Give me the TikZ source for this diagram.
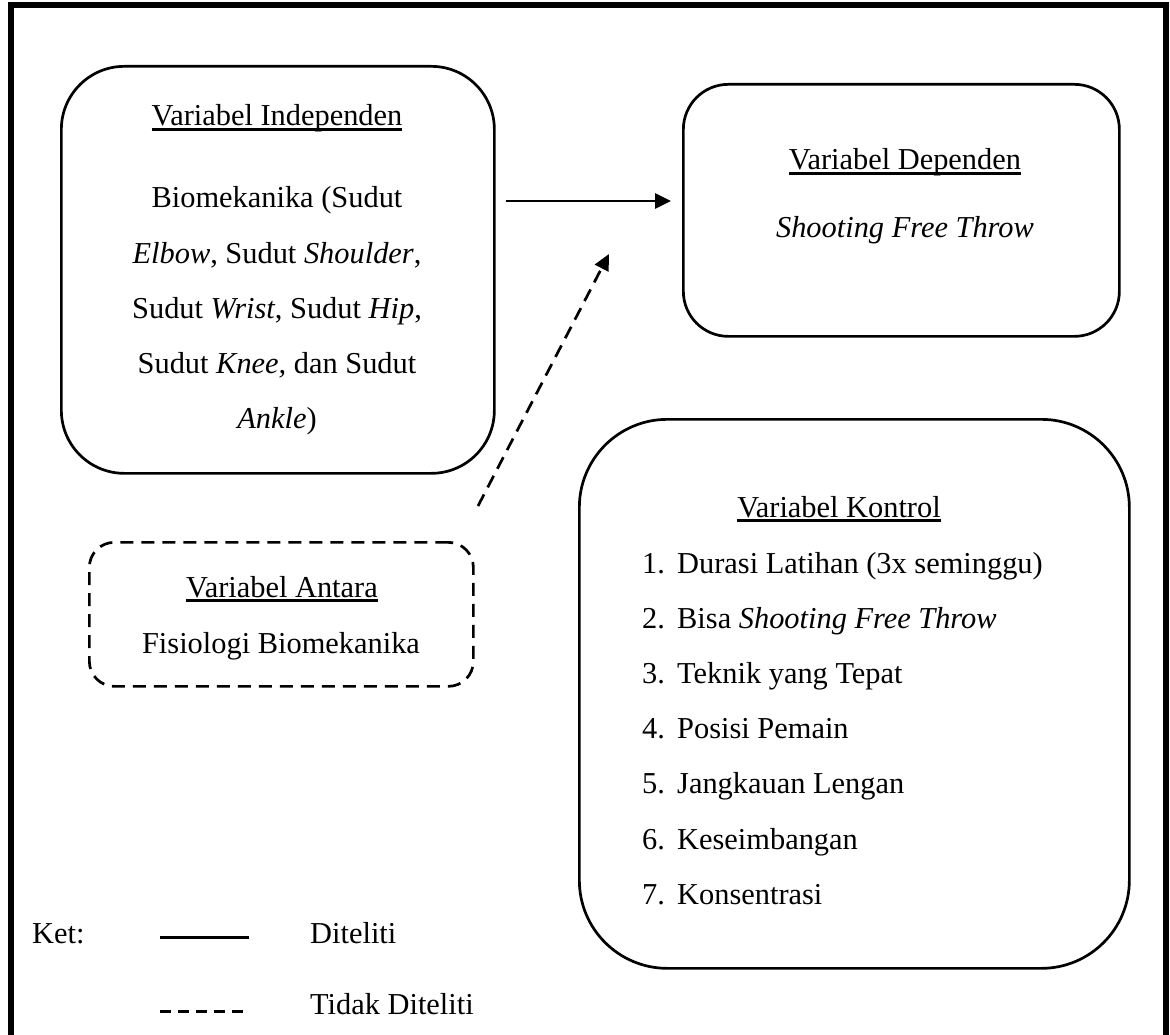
\documentclass[tikz,border=0pt]{standalone}
\usepackage{fontspec}
\setmainfont{Liberation Serif}
\usetikzlibrary{arrows.meta}
\newcommand\myul[1]{\setbox0\hbox{#1}\rlap{\rule[-4.7pt]{\wd0}{2.3pt}}\box0}
\begin{document}
\begin{tikzpicture}[x=1pt,y=-1pt,
  box/.style={draw, line width=2.7pt, rounded corners=#1, anchor=north west, inner sep=0pt},
  dashbox/.style={box=#1, dash pattern=on 13pt off 8pt},
  txt/.style={anchor=base, inner sep=0pt, font=\fontsize{30.4}{36}\selectfont},
  ltxt/.style={txt, anchor=base west},
  conn/.style={line width=2.7pt, -{Triangle[length=16pt,width=15pt]}},
  dconn/.style={conn, dash pattern=on 13pt off 8pt}]
\useasboundingbox (0,0) rectangle (1170,1035);
% outer frame
\draw[line width=5.5pt] (11,1060) -- (11,5) -- (1166,5) -- (1166,1060);
% boxes
\node[box=63pt, minimum width=433pt, minimum height=407pt] (indep) at (60,65) {};
\node[box=45pt, minimum width=436pt, minimum height=252pt] (dep) at (682,83) {};
\node[box=88pt, minimum width=550pt, minimum height=549pt] (kontrol) at (578,418) {};
\node[dashbox=25pt, minimum width=384pt, minimum height=144pt] (antara) at (88,541) {};
% texts: independen
\node[txt] (ti) at (277,126) {\myul{Variabel Independen}};
\node[txt] (ti1) at (277,208) {Biomekanika (Sudut};
\node[txt] (ti2) at (277,263) {\textit{Elbow}, Sudut \textit{Shoulder},};
\node[txt] (ti3) at (277,318) {Sudut \textit{Wrist}, Sudut \textit{Hip},};
\node[txt] (ti4) at (277,373) {Sudut \textit{Knee,} dan Sudut};
\node[txt] (ti5) at (277,428) {\textit{Ankle})};
% dependen
\node[txt] (td) at (905,170) {\myul{Variabel Dependen}};
\node[txt] (td1) at (905,238) {\textit{Shooting Free Throw}};
% antara
\node[txt] (ta) at (282,597) {\myul{Variabel Antara}};
\node[txt] (ta1) at (281,653) {Fisiologi Biomekanika};
% kontrol
\node[txt] (tk) at (839,517) {\myul{Variabel Kontrol}};
\foreach \n/\t/\y in {1/{Durasi Latihan (3x seminggu)}/573,
                      2/{Bisa \textit{Shooting Free Throw}}/628,
                      3/{Teknik yang Tepat}/683,
                      4/{Posisi Pemain}/738,
                      5/{Jangkauan Lengan}/793,
                      6/{Keseimbangan}/849,
                      7/{Konsentrasi}/904}{
  \node[ltxt] (kn\n) at (642,\y) {\n.};
  \node[ltxt] (kt\n) at (677,\y) {\t};
}
% connectors
\coordinate (y1) at (0,201);
\draw[conn, shorten <=10pt, shorten >=11pt] (indep.east |- y1) -- (dep.west |- y1);
\coordinate (d0) at (478,506);
\coordinate (d1) at (609,254);
\draw[dconn] (d0) -- (d1);
% legend
\node[ltxt] (ket) at (32,943) {Ket:};
\node[ltxt] (l1) at (310,943) {Diteliti};
\node[ltxt] (l2) at (310,1014) {Tidak Diteliti};
\draw[line width=3pt] (160,937) -- (249,937);
\draw[line width=3pt, dash pattern=on 11pt off 7pt] (160,1011) -- (245,1011);
\end{tikzpicture}
\end{document}
